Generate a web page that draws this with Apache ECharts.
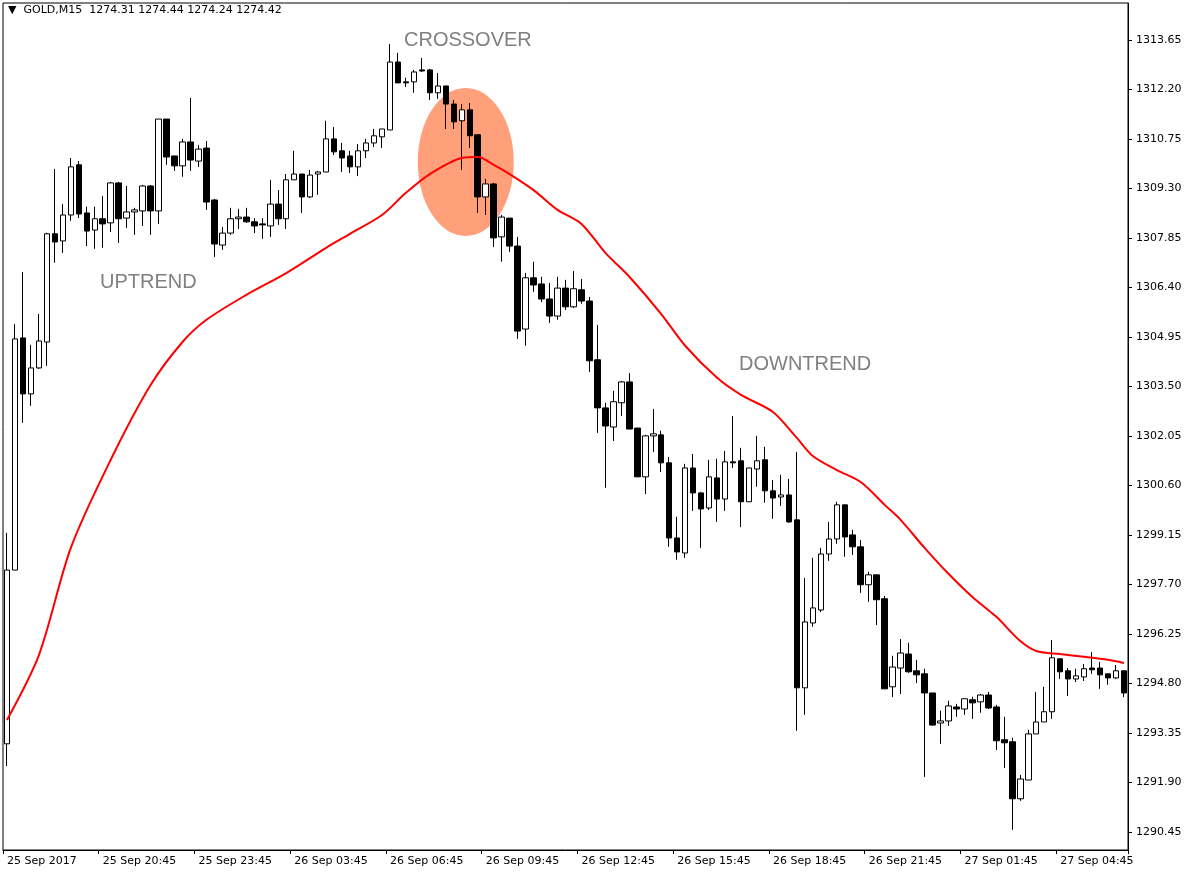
<!DOCTYPE html>
<html>
<head>
<meta charset="utf-8">
<script src="https://cdn.jsdelivr.net/npm/echarts@6/dist/echarts.min.js"></script>
<style>
  html, body { margin: 0; padding: 0; background: #fff; }
  #chart { width: 1186px; height: 876px; }
</style>
</head>
<body>
<div id="chart"></div>
<script>
// candles, one entry per M15 bar
const opens  = [1293.03,1298.12,1304.92,1303.28,1304.04,1304.80,1307.97,1307.76,1308.52,1309.99,
                1308.58,1308.08,1308.41,1308.29,1309.46,1308.43,1308.61,1308.64,1309.37,1308.64,
                1311.33,1310.25,1309.96,1310.66,1310.10,1310.48,1308.96,1307.64,1307.99,1308.41,
                1308.46,1308.32,1308.26,1308.20,1308.84,1308.41,1309.55,1309.72,1309.05,1309.72,
                1309.78,1310.75,1310.40,1310.25,1309.93,1310.40,1310.63,1310.81,1311.01,1313.00,
                1312.42,1312.42,1312.77,1312.77,1312.10,1312.30,1311.77,1311.28,1311.60,1310.87,
                1309.05,1309.43,1307.88,1308.43,1307.61,1305.18,1306.68,1306.50,1306.06,1305.56,
                1306.38,1305.83,1306.33,1306.00,1304.28,1302.87,1302.31,1303.02,1303.63,1302.28,
                1300.85,1302.05,1302.08,1301.26,1299.06,1298.62,1301.11,1300.38,1299.94,1300.82,
                1300.20,1301.29,1301.32,1300.12,1301.08,1301.35,1300.44,1300.26,1300.32,1299.59,
                1294.67,1296.57,1296.95,1298.59,1299.03,1300.03,1299.15,1298.80,1297.69,1297.98,
                1297.28,1294.70,1295.25,1295.66,1295.17,1295.08,1294.52,1293.64,1293.70,1294.11,
                1294.05,1294.32,1294.26,1294.46,1294.11,1293.15,1293.09,1291.42,1291.97,1293.32,
                1293.67,1293.97,1295.52,1295.17,1294.93,1294.99,1295.25,1295.25,1295.08,1294.96,
                1295.17];
const closes = [1298.12,1304.89,1303.28,1304.04,1304.83,1307.97,1307.73,1308.52,1309.93,1308.55,
                1308.05,1308.41,1308.26,1309.46,1308.41,1308.61,1308.67,1309.37,1308.64,1311.33,
                1310.22,1309.96,1310.66,1310.13,1310.45,1308.90,1307.67,1307.99,1308.41,1308.46,
                1308.32,1308.20,1308.23,1308.84,1308.41,1309.55,1309.72,1309.05,1309.69,1309.78,
                1310.75,1310.37,1310.19,1309.93,1310.40,1310.63,1310.84,1311.04,1313.00,1312.39,
                1312.39,1312.71,1312.74,1312.10,1312.30,1311.77,1311.25,1311.60,1310.84,1309.05,
                1309.43,1307.85,1308.46,1307.61,1305.12,1306.68,1306.47,1306.06,1305.56,1306.38,
                1305.83,1306.36,1306.00,1304.25,1302.87,1302.34,1303.05,1303.63,1302.25,1300.85,
                1302.05,1302.11,1301.26,1299.06,1298.65,1301.11,1300.38,1299.91,1300.85,1300.20,
                1301.29,1301.26,1300.12,1301.11,1301.32,1300.44,1300.23,1300.32,1299.53,1294.67,
                1296.60,1297.01,1298.59,1299.03,1300.03,1299.09,1298.80,1297.69,1297.98,1297.25,
                1294.64,1295.28,1295.69,1295.14,1295.05,1294.52,1293.58,1293.70,1294.14,1294.05,
                1294.35,1294.23,1294.46,1294.08,1293.12,1293.06,1291.42,1292.00,1293.32,1293.67,
                1293.97,1295.55,1295.14,1294.93,1295.02,1295.23,1295.20,1295.05,1294.96,1295.17,
                1294.52];
const lows   = [1292.38,1298.12,1302.43,1302.93,1304.01,1304.10,1307.12,1307.41,1308.35,1308.43,
                1307.61,1307.53,1307.56,1308.02,1307.70,1308.14,1307.94,1308.20,1307.94,1308.26,
                1309.99,1309.81,1309.64,1309.81,1309.93,1308.67,1307.29,1307.50,1307.94,1308.11,
                1308.29,1307.99,1307.82,1307.88,1308.23,1308.11,1309.55,1308.58,1309.02,1309.11,
                1309.78,1310.28,1309.78,1309.75,1309.66,1310.19,1310.51,1310.48,1311.01,1312.39,
                1312.27,1312.10,1312.71,1311.89,1311.92,1311.04,1311.04,1309.84,1310.48,1308.58,
                1308.52,1307.58,1307.15,1307.44,1304.89,1304.69,1306.27,1305.97,1305.36,1305.45,
                1305.74,1305.80,1305.92,1303.92,1302.14,1300.53,1301.90,1302.63,1302.25,1300.85,
                1300.35,1301.58,1300.99,1298.80,1298.42,1298.48,1299.85,1298.77,1299.88,1299.53,
                1299.85,1301.11,1299.38,1300.12,1300.56,1300.09,1299.62,1300.00,1299.50,1293.41,
                1293.88,1296.46,1296.89,1298.39,1298.89,1298.51,1298.56,1297.45,1297.19,1296.51,
                1294.64,1294.40,1294.49,1295.11,1294.81,1292.06,1293.56,1293.03,1293.56,1293.82,
                1293.88,1293.76,1293.94,1294.05,1292.85,1292.32,1290.51,1291.36,1291.97,1293.32,
                1293.67,1293.76,1294.93,1294.43,1294.84,1294.87,1295.08,1294.64,1294.76,1294.93,
                1294.40];
const highs  = [1299.21,1305.33,1306.85,1304.72,1305.62,1308.00,1309.87,1308.84,1310.19,1310.10,
                1308.76,1308.76,1309.08,1309.49,1309.49,1309.37,1308.73,1309.40,1309.40,1311.33,
                1311.33,1310.25,1310.75,1311.95,1310.57,1310.69,1308.99,1308.17,1308.73,1308.70,
                1308.73,1308.43,1308.43,1309.55,1309.25,1309.72,1310.40,1309.72,1309.84,1309.81,
                1311.28,1311.10,1310.63,1310.40,1310.60,1310.75,1311.04,1311.04,1313.53,1313.27,
                1312.54,1312.77,1313.12,1312.80,1312.68,1312.30,1311.89,1311.77,1311.80,1310.87,
                1309.58,1309.46,1308.52,1308.43,1307.88,1306.82,1307.15,1306.71,1306.53,1306.71,
                1306.62,1306.88,1306.65,1306.12,1305.30,1303.02,1303.37,1303.66,1303.89,1302.28,
                1302.08,1302.84,1302.20,1301.43,1299.68,1301.23,1301.52,1300.41,1301.35,1301.38,
                1301.61,1302.63,1301.70,1301.11,1302.05,1301.73,1300.76,1300.91,1300.79,1301.58,
                1297.89,1298.48,1298.77,1299.53,1300.12,1300.03,1299.30,1299.00,1298.07,1297.98,
                1297.36,1295.61,1296.10,1295.99,1295.49,1295.23,1294.52,1294.00,1294.29,1294.20,
                1294.35,1294.41,1294.49,1294.55,1294.17,1293.82,1293.21,1292.12,1293.44,1294.55,
                1294.70,1296.07,1295.52,1295.25,1295.23,1295.37,1295.72,1295.43,1295.08,1295.34,
                1295.17];

// moving average, read at sparse bar positions
const maIdx = [0,4,8,13,18,22,25,30,35,40,43,47,50,53,57,59,61,63,66,69,72,75,78,82,85,89,92,96,99,
               101,104,107,110,112,115,118,121,124,127,129,132,135,138,140];
const maVal = [1293.73,1295.63,1298.77,1301.35,1303.54,1304.80,1305.45,1306.18,1306.82,1307.56,
               1307.97,1308.52,1309.17,1309.72,1310.19,1310.22,1309.99,1309.72,1309.25,1308.67,
               1308.26,1307.41,1306.71,1305.62,1304.69,1303.75,1303.25,1302.75,1301.99,
               1301.46,1301.05,1300.70,1300.03,1299.59,1298.77,1298.01,1297.33,1296.75,1296.04,
               1295.75,1295.66,1295.58,1295.49,1295.40];

const xLabels = ['25 Sep 2017','25 Sep 20:45','25 Sep 23:45','26 Sep 03:45','26 Sep 06:45',
                 '26 Sep 09:45','26 Sep 12:45','26 Sep 15:45','26 Sep 18:45','26 Sep 21:45',
                 '27 Sep 01:45','27 Sep 04:45'];
const yTicks  = [1290.45,1291.90,1293.35,1294.80,1296.25,1297.70,1299.15,1300.60,1302.05,
                 1303.50,1304.95,1306.40,1307.85,1309.30,1310.75,1312.20,1313.65];

document.addEventListener('DOMContentLoaded', () => {

    const chart = echarts.init(document.getElementById('chart'));

    const cats = opens.map((v, i) => String(i));
    const candles = opens.map((o, i) => [o, closes[i], lows[i], highs[i]]);
    const maData = maIdx.map((ix, i) => [ix, maVal[i]]);
    const font = 'DejaVu Sans';

    const option = {
        animation: false,
        backgroundColor: '#fff',
        grid: { left: 3, right: 58, top: 3, bottom: 26, show: true, borderColor: '#000', borderWidth: 1 },
        xAxis: {
            type: 'category', data: cats, boundaryGap: true,
            axisLine: { lineStyle: { color: '#000' } },
            axisTick: { show: true, interval: 11, length: 4, lineStyle: { color: '#000' } },
            axisLabel: {
                interval: 11, color: '#000', fontFamily: font, fontSize: 11, align: 'left', margin: 6,
                formatter: (v, i) => xLabels[Math.round(i / 12)] || ''
            },
            splitLine: { show: false }
        },
        yAxis: {
            type: 'value', position: 'right', min: 1289.92, max: 1314.73, scale: true,
            axisLine: { show: true, lineStyle: { color: '#000' } },
            axisTick: { show: true, length: 4, customValues: yTicks, lineStyle: { color: '#000' } },
            axisLabel: {
                customValues: yTicks, color: '#000', fontFamily: font, fontSize: 11, margin: 8,
                formatter: (v) => v.toFixed(2)
            },
            splitLine: { show: false }
        },
        series: [
            {
                type: 'candlestick', data: candles, barWidth: 6, z: 3,
                itemStyle: { color: '#fff', color0: '#000', borderColor: '#000', borderColor0: '#000', borderWidth: 1 }
            },
            {
                type: 'line', data: maData, showSymbol: false, smooth: 0.3, z: 4,
                lineStyle: { color: '#ff0000', width: 2 }
            }
        ],
        graphic: [
            { type: 'text', left: 8, top: 5, z: 10,
              style: { text: '▼  GOLD,M15  1274.31 1274.44 1274.24 1274.42', fill: '#000', font: '11px "DejaVu Sans"' } },
            { type: 'text', left: 404, top: 30, z: 10,
              style: { text: 'CROSSOVER', fill: '#808080', font: '20px "Liberation Sans"' } },
            { type: 'text', left: 100, top: 272, z: 10,
              style: { text: 'UPTREND', fill: '#808080', font: '20px "Liberation Sans"' } },
            { type: 'text', left: 739, top: 354, z: 10,
              style: { text: 'DOWNTREND', fill: '#808080', font: '20px "Liberation Sans"' } }
        ]
    };
    chart.setOption(option);

    // ellipse marking the crossover, anchored to bar 58 / price 1310.07
    const c = chart.convertToPixel({ gridIndex: 0 }, [58, 1310.07]);
    chart.setOption({
        graphic: [{
            type: 'ellipse', id: 'cross', z: 1, silent: true,
            shape: { cx: c[0] - 4, cy: c[1], rx: 48, ry: 74 },
            style: { fill: '#ffa07a' }
        }]
    });
});
</script>
</body>
</html>
